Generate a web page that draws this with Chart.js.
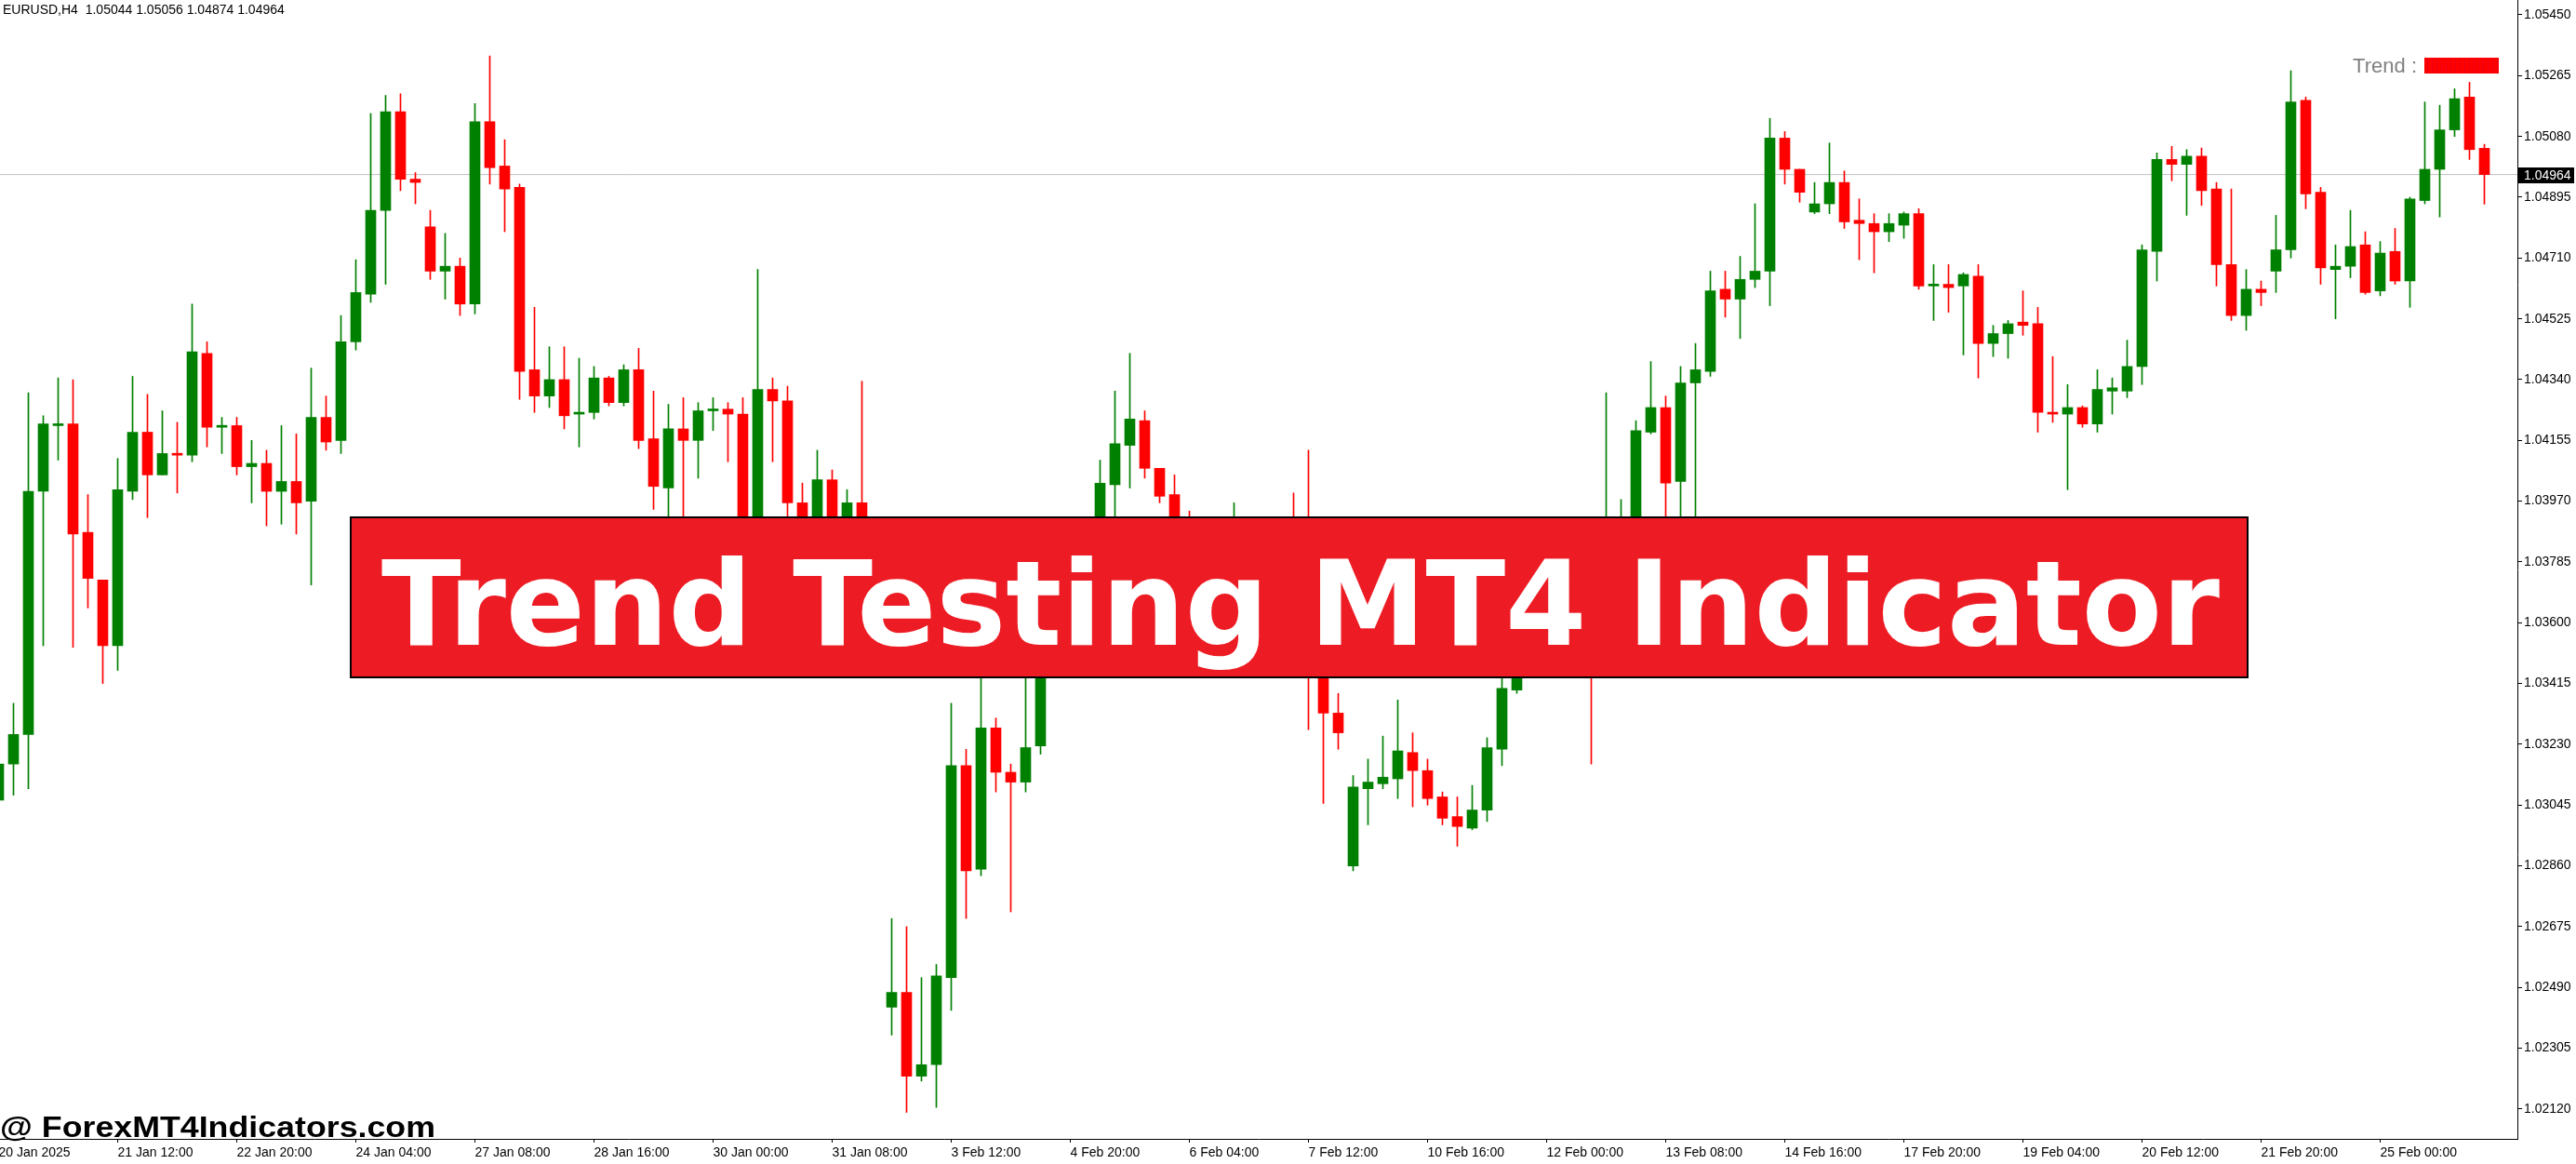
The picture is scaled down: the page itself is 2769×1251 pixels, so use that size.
<!DOCTYPE html>
<html><head><meta charset="utf-8">
<script src="https://cdn.jsdelivr.net/npm/chart.js@4.4.1/dist/chart.umd.min.js"></script>
<style>html,body{margin:0;padding:0;background:#fff;overflow:hidden}canvas{display:block}</style>
</head><body>
<canvas id="c" width="2769" height="1251"></canvas>
<script>
const symbolTitle = 'EURUSD,H4  1.05044 1.05056 1.04874 1.04964';
const lastPrice = 1.04964;
const bannerText = 'Trend Testing MT4 Indicator';
const watermarkText = '@ ForexMT4Indicators.com';
const trendLabel = 'Trend :';

const opens = [1.03060,1.03170,1.03260,1.04000,1.04200,1.04205,1.03875,1.03730,1.03530,1.04000,
1.04180,1.04050,1.04115,1.04110,1.04420,1.04195,1.04200,1.04075,1.04085,1.04000,
1.04030,1.03970,1.04225,1.04155,1.04455,1.04600,1.04855,1.05155,1.04950,1.04805,
1.04670,1.04685,1.04570,1.05125,1.04990,1.04925,1.04370,1.04290,1.04340,1.04235,
1.04240,1.04345,1.04270,1.04370,1.04160,1.04010,1.04190,1.04155,1.04245,1.04250,
1.04235,1.03845,1.04310,1.04275,1.03965,1.03845,1.04035,1.03895,1.03965,1.03695,
1.02430,1.02475,1.02220,1.02255,1.02520,1.03165,1.02850,1.03280,1.03145,1.03115,
1.03225,1.03495,1.03645,1.03570,1.03745,1.04020,1.04140,1.04215,1.04070,1.03990,
1.03795,1.03720,1.03770,1.03735,1.03845,1.03795,1.03835,1.03770,1.03745,1.03520,
1.03325,1.02860,1.03095,1.03110,1.03125,1.03205,1.03150,1.03070,1.03010,1.02975,
1.03030,1.03215,1.03395,1.03470,1.03570,1.03535,1.03595,1.03520,1.03470,1.03795,
1.03895,1.04180,1.04255,1.04030,1.04330,1.04365,1.04615,1.04585,1.04645,1.04670,
1.05075,1.04980,1.04850,1.04875,1.04940,1.04825,1.04815,1.04790,1.04810,1.04845,
1.04625,1.04630,1.04625,1.04655,1.04450,1.04480,1.04515,1.04510,1.04240,1.04235,
1.04255,1.04205,1.04305,1.04305,1.04380,1.04730,1.05010,1.04995,1.05020,1.04920,
1.04690,1.04535,1.04615,1.04670,1.04735,1.05190,1.04910,1.04675,1.04685,1.04750,
1.04610,1.04730,1.04640,1.04885,1.04980,1.05100,1.05200,1.05044];

const highs = [1.03205,1.03355,1.04300,1.04230,1.04345,1.04340,1.03990,1.03730,1.04100,1.04350,
1.04295,1.04245,1.04210,1.04570,1.04455,1.04225,1.04225,1.04155,1.04125,1.04200,
1.04175,1.04375,1.04290,1.04535,1.04705,1.05150,1.05205,1.05210,1.04970,1.04855,
1.04785,1.04710,1.05180,1.05325,1.05070,1.04935,1.04560,1.04440,1.04440,1.04405,
1.04380,1.04350,1.04385,1.04435,1.04305,1.04265,1.04285,1.04270,1.04285,1.04270,
1.04285,1.04675,1.04345,1.04320,1.04025,1.04125,1.04065,1.04005,1.04335,1.03720,
1.02700,1.02675,1.02520,1.02560,1.03355,1.03215,1.03470,1.03310,1.03170,1.03495,
1.03520,1.03695,1.03685,1.03795,1.04095,1.04305,1.04420,1.04245,1.04070,1.04050,
1.03940,1.03820,1.03845,1.03965,1.03885,1.03870,1.03865,1.03995,1.04125,1.03570,
1.03385,1.03135,1.03185,1.03255,1.03365,1.03265,1.03185,1.03085,1.03070,1.03105,
1.03250,1.03495,1.03505,1.03620,1.03645,1.03635,1.03620,1.03570,1.04300,1.03975,
1.04215,1.04395,1.04290,1.04380,1.04450,1.04670,1.04670,1.04715,1.04875,1.05135,
1.05095,1.04980,1.04940,1.05060,1.04975,1.04890,1.04845,1.04845,1.04850,1.04860,
1.04690,1.04690,1.04665,1.04690,1.04505,1.04520,1.04610,1.04560,1.04410,1.04325,
1.04260,1.04370,1.04345,1.04460,1.04750,1.05030,1.05050,1.05040,1.05045,1.04940,
1.04920,1.04675,1.04640,1.04840,1.05280,1.05200,1.04925,1.04750,1.04855,1.04790,
1.04760,1.04800,1.04895,1.05185,1.05175,1.05225,1.05245,1.05056];

const lows = [1.03045,1.03075,1.03095,1.03530,1.04095,1.03525,1.03645,1.03415,1.03455,1.03975,
1.03920,1.04050,1.03995,1.04090,1.04135,1.04115,1.04050,1.03965,1.03895,1.03900,
1.03870,1.03715,1.04125,1.04115,1.04430,1.04575,1.04630,1.04915,1.04875,1.04645,
1.04585,1.04535,1.04540,1.04935,1.04790,1.04280,1.04240,1.04255,1.04190,1.04135,
1.04220,1.04260,1.04260,1.04130,1.03945,1.03895,1.03870,1.04040,1.04185,1.04090,
1.03820,1.03805,1.04090,1.03905,1.03805,1.03825,1.03865,1.03855,1.03670,1.03570,
1.02345,1.02110,1.02205,1.02125,1.02420,1.02700,1.02830,1.03085,1.02720,1.03085,
1.03200,1.03445,1.03520,1.03535,1.03720,1.03895,1.04010,1.04040,1.03965,1.03770,
1.03685,1.03695,1.03705,1.03715,1.03765,1.03755,1.03745,1.03715,1.03275,1.03050,
1.03215,1.02845,1.02985,1.03095,1.03065,1.03040,1.03045,1.02985,1.02920,1.02970,
1.02995,1.03165,1.03385,1.03445,1.03505,1.03515,1.03495,1.03170,1.03445,1.03745,
1.03870,1.04175,1.03905,1.03895,1.03905,1.04350,1.04530,1.04465,1.04620,1.04565,
1.04935,1.04880,1.04845,1.04845,1.04800,1.04705,1.04665,1.04760,1.04770,1.04615,
1.04520,1.04545,1.04415,1.04345,1.04410,1.04405,1.04475,1.04180,1.04210,1.04005,
1.04195,1.04180,1.04235,1.04285,1.04325,1.04640,1.04945,1.04840,1.04870,1.04625,
1.04520,1.04490,1.04565,1.04605,1.04710,1.04860,1.04630,1.04525,1.04650,1.04600,
1.04595,1.04630,1.04560,1.04875,1.04835,1.05080,1.05010,1.04874];

const closes = [1.03170,1.03260,1.04000,1.04205,1.04205,1.03870,1.03735,1.03530,1.04005,1.04180,
1.04050,1.04115,1.04110,1.04425,1.04195,1.04200,1.04075,1.04085,1.04000,1.04030,
1.03965,1.04225,1.04150,1.04455,1.04605,1.04855,1.05155,1.04950,1.04940,1.04670,
1.04685,1.04570,1.05125,1.04985,1.04920,1.04365,1.04290,1.04340,1.04230,1.04240,
1.04345,1.04270,1.04370,1.04155,1.04015,1.04190,1.04155,1.04245,1.04250,1.04235,
1.03845,1.04310,1.04275,1.03965,1.03845,1.04035,1.03895,1.03965,1.03695,1.03620,
1.02475,1.02220,1.02255,1.02525,1.03165,1.02845,1.03280,1.03145,1.03115,1.03220,
1.03495,1.03645,1.03570,1.03745,1.04025,1.04145,1.04220,1.04070,1.03985,1.03795,
1.03720,1.03770,1.03735,1.03845,1.03795,1.03835,1.03770,1.03745,1.03520,1.03325,
1.03265,1.03100,1.03115,1.03130,1.03210,1.03150,1.03065,1.03005,1.02980,1.03030,
1.03220,1.03400,1.03470,1.03570,1.03535,1.03595,1.03520,1.03470,1.03795,1.03895,
1.04185,1.04255,1.04025,1.04330,1.04370,1.04610,1.04585,1.04645,1.04670,1.05075,
1.04980,1.04910,1.04875,1.04940,1.04820,1.04815,1.04790,1.04815,1.04845,1.04625,
1.04630,1.04620,1.04660,1.04450,1.04480,1.04510,1.04505,1.04240,1.04235,1.04255,
1.04205,1.04310,1.04315,1.04380,1.04735,1.05010,1.04995,1.05020,1.04915,1.04690,
1.04535,1.04615,1.04605,1.04735,1.05185,1.04905,1.04680,1.04685,1.04745,1.04605,
1.04725,1.04640,1.04890,1.04980,1.05100,1.05195,1.05040,1.04964];

const yTickValues = [1.05450,1.05265,1.05080,1.04895,1.04710,1.04525,1.04340,1.04155,1.03970,1.03785,
1.03600,1.03415,1.03230,1.03045,1.02860,1.02675,1.02490,1.02305,1.02120];
const xTickBars = [0,8,16,24,32,40,48,56,64,72,80,88,96,104,112,120,128,136,144,152,160];
const xTickLabels = ['20 Jan 2025','21 Jan 12:00','22 Jan 20:00','24 Jan 04:00','27 Jan 08:00','28 Jan 16:00',
'30 Jan 00:00','31 Jan 08:00','3 Feb 12:00','4 Feb 20:00','6 Feb 04:00','7 Feb 12:00','10 Feb 16:00',
'12 Feb 00:00','13 Feb 08:00','14 Feb 16:00','17 Feb 20:00','19 Feb 04:00','20 Feb 12:00','21 Feb 20:00','25 Feb 00:00'];

const xMin = 0.09375, xMax = 169.21875;
const yMin = 1.020292, yMax = 1.054953;

const UP = '#008000', DOWN = '#FF0000';
const candleColors = opens.map((o, i) => closes[i] >= o ? UP : DOWN);
const bodyData = opens.map((o, i) => ({x: i, y: [o, closes[i]]}));
const wickData = highs.map((h, i) => ({x: i, y: [lows[i], h]}));

const FONT = '"Liberation Sans", Arial, sans-serif';

const overlay = {
  id: 'overlay',
  afterDraw(chart) {
    const ctx = chart.ctx, ys = chart.scales.y, area = chart.chartArea;
    ctx.save();
    ctx.fillStyle = '#000';
    ctx.font = '14px ' + FONT;
    ctx.textAlign = 'left';
    ctx.textBaseline = 'alphabetic';
    ctx.fillText(symbolTitle, 3, 15);
    const py = Math.round(ys.getPixelForValue(lastPrice));
    ctx.fillStyle = '#000';
    ctx.fillRect(area.right, py - 8, chart.width - area.right - 2, 17);
    ctx.fillStyle = '#fff';
    ctx.textBaseline = 'middle';
    ctx.fillText(lastPrice.toFixed(5), area.right + 7, py + 1);
    ctx.fillStyle = '#808080';
    ctx.font = '22px ' + FONT;
    ctx.textAlign = 'right';
    ctx.textBaseline = 'alphabetic';
    ctx.fillText(trendLabel, 2598, 78);
    ctx.fillStyle = '#FF0000';
    ctx.fillRect(2606, 62, 80, 17);
    ctx.fillStyle = 'rgba(200,0,60,0.35)';
    for (let x = 2609; x < 2686; x += 5) ctx.fillRect(x, 62, 1, 17);
    ctx.fillStyle = '#ED1C24';
    ctx.fillRect(377, 556, 2039, 172);
    ctx.strokeStyle = '#000';
    ctx.lineWidth = 2;
    ctx.strokeRect(377, 556, 2039, 172);
    ctx.fillStyle = '#fff';
    ctx.font = 'bold 126px "DejaVu Sans", sans-serif';
    ctx.textAlign = 'left';
    let w = ctx.measureText(bannerText).width;
    let sx = 1976 / w;
    ctx.save();
    ctx.translate(410, 693);
    ctx.scale(sx, 1);
    ctx.fillText(bannerText, 0, 0);
    ctx.restore();
    ctx.fillStyle = '#000';
    ctx.font = 'bold 32px ' + FONT;
    w = ctx.measureText(watermarkText).width;
    sx = 468 / w;
    ctx.save();
    ctx.translate(0, 1222);
    ctx.scale(sx, 1);
    ctx.fillText(watermarkText, 0, 0);
    ctx.restore();
    ctx.restore();
  }
};

new Chart(document.getElementById('c').getContext('2d'), {
  type: 'bar',
  data: {
    datasets: [
      {type: 'bar', data: bodyData, backgroundColor: candleColors, barThickness: 11, grouped: false, order: 0, minBarLength: 2},
      {type: 'bar', data: wickData, backgroundColor: candleColors, barThickness: 1, grouped: false, order: 1},
      {type: 'line', data: [{x: xMin, y: lastPrice}, {x: xMax, y: lastPrice}], borderColor: '#C0C0C0', borderWidth: 1, pointRadius: 0, order: 2}
    ]
  },
  options: {
    responsive: false, animation: false, devicePixelRatio: 1,
    layout: {padding: 0},
    plugins: {legend: {display: false}, tooltip: {enabled: false}, title: {display: false}},
    scales: {
      x: {
        type: 'linear', position: 'bottom', min: xMin, max: xMax, offset: false,
        afterBuildTicks: s => { s.ticks = xTickBars.map(v => ({value: v})); },
        afterFit: s => { s.height = 27; s.paddingLeft = 0; s.paddingRight = 0; },
        ticks: {autoSkip: false, maxRotation: 0, minRotation: 0, align: 'start', padding: 3, color: '#000',
          font: {family: FONT, size: 14}, callback: (v, idx) => xTickLabels[idx]},
        grid: {drawOnChartArea: false, drawTicks: true, tickLength: 4, color: '#000', offset: false},
        border: {display: true, color: '#000', width: 1}
      },
      y: {
        type: 'linear', position: 'right', min: yMin, max: yMax,
        afterBuildTicks: s => { s.ticks = yTickValues.map(v => ({value: v})); },
        afterFit: s => { s.width = 63; s.paddingTop = 0; s.paddingBottom = 0; },
        ticks: {autoSkip: false, padding: 2, color: '#000', font: {family: FONT, size: 14},
          callback: v => Number(v).toFixed(5)},
        grid: {drawOnChartArea: false, drawTicks: true, tickLength: 5, color: '#000'},
        border: {display: true, color: '#000', width: 1}
      }
    }
  },
  plugins: [overlay]
});
</script>
</body></html>
